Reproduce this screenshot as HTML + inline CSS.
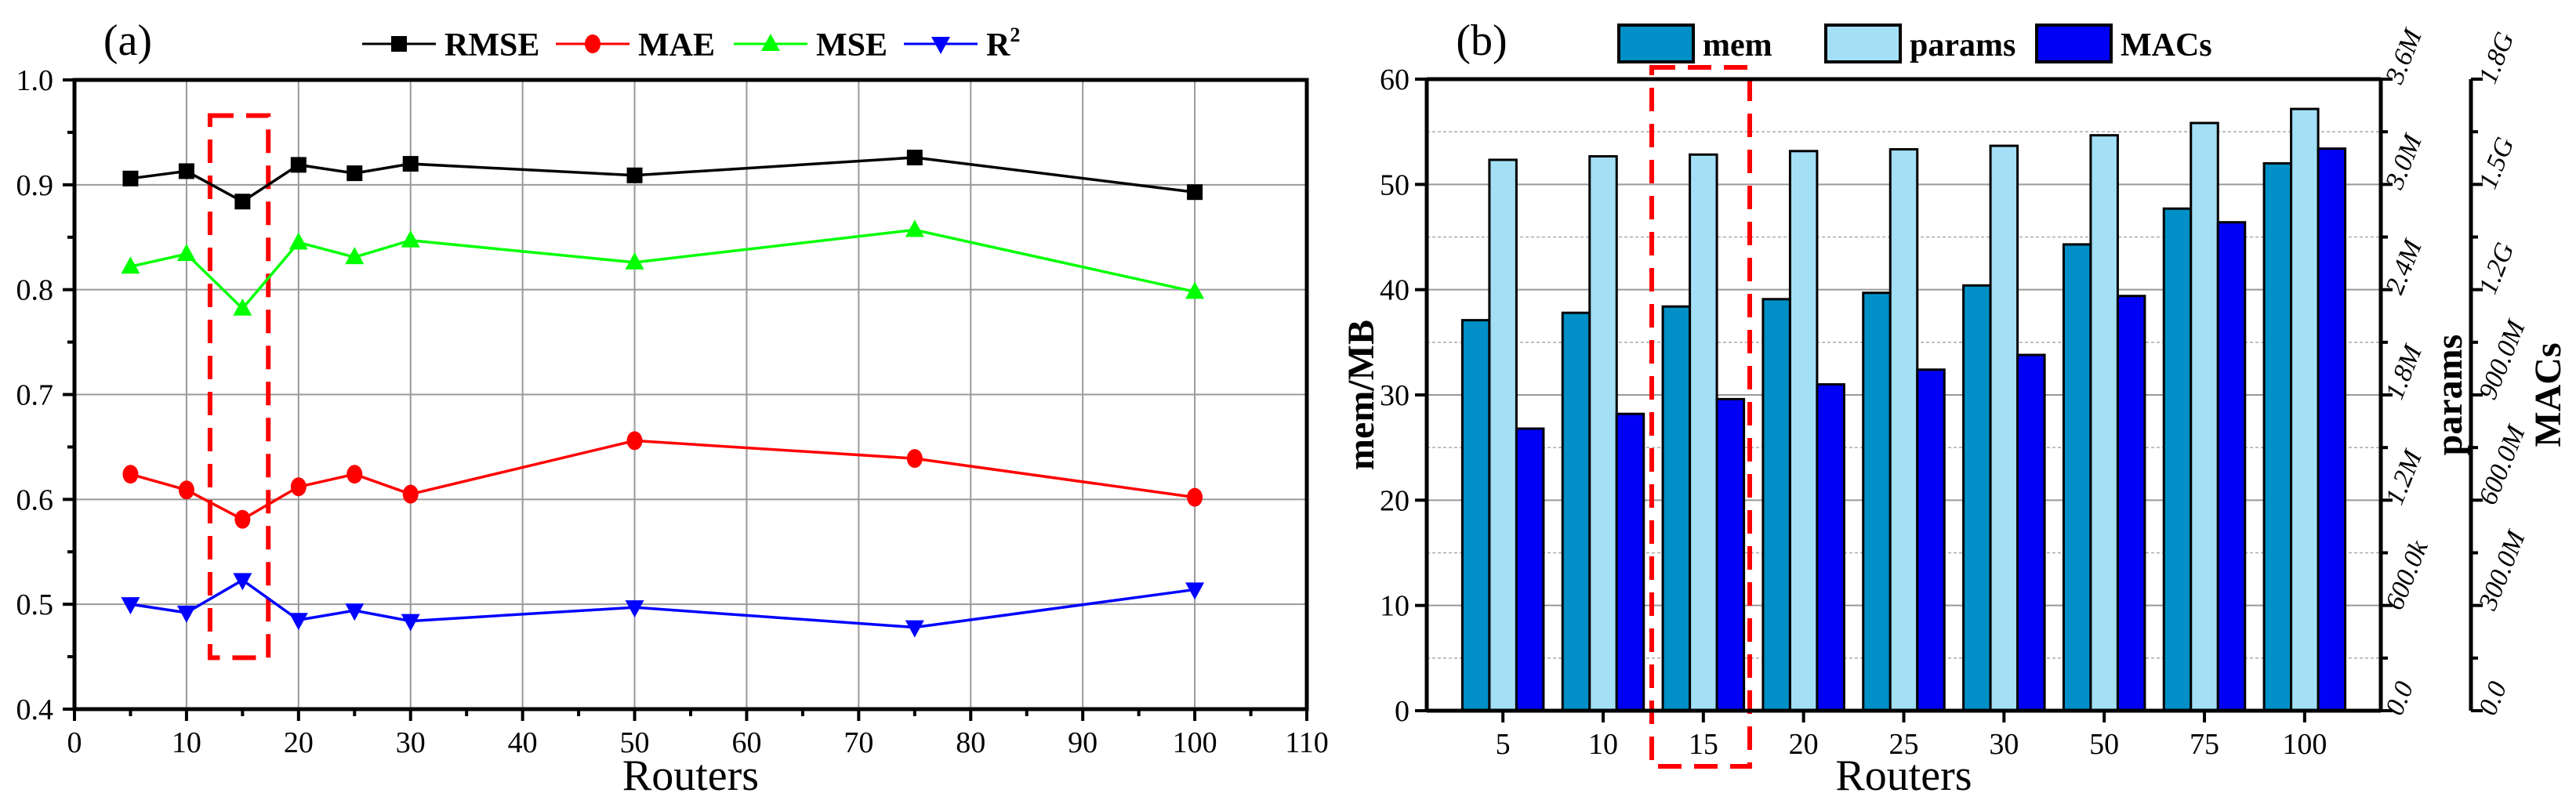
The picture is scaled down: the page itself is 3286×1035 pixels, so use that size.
<!DOCTYPE html>
<html><head><meta charset="utf-8"><style>
body{margin:0;background:#fff}
svg{display:block;font-family:"Liberation Serif",serif}
</style></head><body>
<svg id="c" width="3286" height="1035" viewBox="0 0 3286 1035" xmlns="http://www.w3.org/2000/svg"></svg>
<script>
const xVals=[5,10,15,20,25,30,50,75,100];
const rmse=[0.906,0.913,0.884,0.919,0.911,0.920,0.909,0.926,0.893];
const mae=[0.624,0.609,0.581,0.612,0.624,0.605,0.656,0.639,0.602];
const mse=[0.822,0.834,0.782,0.845,0.831,0.847,0.826,0.857,0.798];
const r2=[0.500,0.492,0.523,0.485,0.494,0.484,0.497,0.478,0.514];
const xTicksA=[0,10,20,30,40,50,60,70,80,90,100,110];
const yTicksA=[0.4,0.5,0.6,0.7,0.8,0.9,1.0];
const categories=["5","10","15","20","25","30","50","75","100"];
const memMB=[37.1,37.8,38.4,39.1,39.7,40.4,44.3,47.7,52.0];
const paramsM=[3.14,3.16,3.17,3.19,3.20,3.22,3.28,3.35,3.43];
const macsG=[0.804,0.846,0.888,0.930,0.972,1.014,1.182,1.392,1.602];
const memTicks=[0,10,20,30,40,50,60];
const paramTicks=["0.0","600.0k","1.2M","1.8M","2.4M","3.0M","3.6M"];
const macTicks=["0.0","300.0M","600.0M","900.0M","1.2G","1.5G","1.8G"];

const NS="http://www.w3.org/2000/svg";
const svg=document.getElementById('c');
function mk(tag,attrs,parent,name,text){const e=document.createElementNS(NS,tag);for(const k in attrs)e.setAttribute(k,attrs[k]);


if(text!==undefined)e.textContent=text;(parent||svg).appendChild(e);return e;}

// ---------- Chart A ----------
const A={l:95,r:1667,t:102,b:905};
const ax=v=>A.l+(v-0)/110*(A.r-A.l);
const ay=v=>A.b-(v-0.4)/0.6*(A.b-A.t);
const gA=mk('g',{},svg,'chart-a');
xTicksA.forEach(v=>{if(v>0&&v<110)mk('line',{x1:ax(v),x2:ax(v),y1:A.t,y2:A.b,stroke:'#999','stroke-width':2},gA,'grid-x');});
yTicksA.forEach(v=>{if(v>0.4&&v<1.0)mk('line',{x1:A.l,x2:A.r,y1:ay(v),y2:ay(v),stroke:'#999','stroke-width':2},gA,'grid-y');});
mk('rect',{x:ax(12.1),y:ay(0.966),width:ax(17.3)-ax(12.1),height:ay(0.449)-ay(0.966),fill:'none',stroke:'#f00','stroke-width':6,'stroke-dasharray':'30,16'},gA,'highlight-box-a');
function series(vals,color,marker,name){
  const g=mk('g',{},gA,name);
  mk('polyline',{points:vals.map((v,i)=>ax(xVals[i])+','+ay(v)).join(' '),fill:'none',stroke:color,'stroke-width':3.5},g,name+'-line');
  vals.forEach((v,i)=>drawMarker(g,ax(xVals[i]),ay(v),color,marker,name+'-point'));
}
function drawMarker(g,x,y,color,m,name){
  if(m==='sq')mk('rect',{x:x-10,y:y-10,width:20,height:20,fill:color},g,name);
  else if(m==='ci')mk('ellipse',{cx:x,cy:y,rx:10,ry:12,fill:color},g,name);
  else if(m==='up')mk('polygon',{points:`${x},${y-13} ${x-12},${y+9} ${x+12},${y+9}`,fill:color},g,name);
  else mk('polygon',{points:`${x},${y+13} ${x-12},${y-9} ${x+12},${y-9}`,fill:color},g,name);
}
series(rmse,'#000','sq','rmse-series');
series(mse,'#0f0','up','mse-series');
series(mae,'#f00','ci','mae-series');
series(r2,'#00f','dn','r2-series');
mk('rect',{x:A.l,y:A.t,width:A.r-A.l,height:A.b-A.t,fill:'none',stroke:'#000','stroke-width':5},gA,'plot-frame-a');
xTicksA.forEach(v=>{mk('line',{x1:ax(v),x2:ax(v),y1:A.b,y2:A.b+15,stroke:'#000','stroke-width':4},gA,'x-tick');
mk('text',{x:ax(v),y:A.b+55,'font-size':38,'text-anchor':'middle'},gA,'x-tick-label',String(v));});
for(let v=5;v<110;v+=10)mk('line',{x1:ax(v),x2:ax(v),y1:A.b,y2:A.b+9,stroke:'#000','stroke-width':4},gA,'x-minor-tick');
yTicksA.forEach(v=>{mk('line',{x1:A.l-15,x2:A.l,y1:ay(v),y2:ay(v),stroke:'#000','stroke-width':4},gA,'y-tick');
mk('text',{x:A.l-27,y:ay(v)+13,'font-size':38,'text-anchor':'end'},gA,'y-tick-label',v.toFixed(1));});
for(let v=0.45;v<1;v+=0.1)mk('line',{x1:A.l-9,x2:A.l,y1:ay(v),y2:ay(v),stroke:'#000','stroke-width':4},gA,'y-minor-tick');
mk('text',{x:(A.l+A.r)/2,y:1008,'font-size':56,'text-anchor':'middle'},gA,'x-axis-title-a','Routers');
mk('text',{x:163,y:70,'font-size':56,'text-anchor':'middle'},gA,'panel-label-a','(a)');
const legA=[['RMSE','#000','sq',462],['MAE','#f00','ci',709],['MSE','#0f0','up',936],['R','#00f','dn',1153]];
legA.forEach(([t,c,m,x0])=>{const g=mk('g',{},gA,'legend-entry');
mk('line',{x1:x0,x2:x0+94,y1:56,y2:56,stroke:c,'stroke-width':3},g,'legend-line');
drawMarker(g,x0+47,56,c,m,'legend-marker');
const tx=mk('text',{x:x0+105,y:71,'font-size':42,'font-weight':'bold'},g,'legend-label',t);
if(t==='R'){mk('tspan',{'font-size':26,dy:-18},tx,'superscript','2');}
});

// ---------- Chart B ----------
const B={l:1820,r:3037,t:101,b:907};
const step=(B.r-B.l)/9.52;
const bx=i=>B.l+(i+0.76)*step;
const by=v=>B.b-v/60*(B.b-B.t);
const byP=v=>B.b-v/3.6*(B.b-B.t);
const byM=v=>B.b-v/1.8*(B.b-B.t);
const gB=mk('g',{},svg,'chart-b');
for(let v=5;v<60;v+=10)mk('line',{x1:B.l,x2:B.r,y1:by(v),y2:by(v),stroke:'#aaa','stroke-width':1.5,'stroke-dasharray':'4,3'},gB,'minor-grid-y');
memTicks.forEach(v=>{if(v>0&&v<60)mk('line',{x1:B.l,x2:B.r,y1:by(v),y2:by(v),stroke:'#999','stroke-width':2},gB,'grid-y');});
const bw=34.5;
categories.forEach((c,i)=>{const cx=bx(i);
mk('rect',{x:cx-1.5*bw,y:by(memMB[i]),width:bw,height:B.b-by(memMB[i]),fill:'#008fc6',stroke:'#000','stroke-width':3},gB,'bar-mem-'+c);
mk('rect',{x:cx-0.5*bw,y:byP(paramsM[i]),width:bw,height:B.b-byP(paramsM[i]),fill:'#a3dff5',stroke:'#000','stroke-width':3},gB,'bar-params-'+c);
mk('rect',{x:cx+0.5*bw,y:byM(macsG[i]),width:bw,height:B.b-byM(macsG[i]),fill:'#0000f5',stroke:'#000','stroke-width':3},gB,'bar-macs-'+c);
mk('line',{x1:cx,x2:cx,y1:B.b,y2:B.b+15,stroke:'#000','stroke-width':4},gB,'x-tick');
mk('text',{x:cx,y:B.b+55,'font-size':38,'text-anchor':'middle'},gB,'x-tick-label',c);
});
mk('rect',{x:2107,y:86,width:125,height:892,fill:'none',stroke:'#f00','stroke-width':6,'stroke-dasharray':'30,16'},gB,'highlight-box-b');
mk('line',{x1:B.l,x2:B.r,y1:B.t,y2:B.t,stroke:'#000','stroke-width':5},gB,'top-axis');
mk('line',{x1:B.l,x2:B.r,y1:B.b,y2:B.b,stroke:'#000','stroke-width':5},gB,'x-axis-b');
mk('line',{x1:B.l,x2:B.l,y1:B.t,y2:B.b,stroke:'#000','stroke-width':5},gB,'y-axis-mem');
mk('line',{x1:B.r,x2:B.r,y1:B.t,y2:B.b,stroke:'#000','stroke-width':5},gB,'y-axis-params');
const MX=3152;
mk('line',{x1:MX,x2:MX,y1:B.t,y2:B.b,stroke:'#000','stroke-width':5},gB,'y-axis-macs');
memTicks.forEach(v=>{mk('line',{x1:B.l-15,x2:B.l,y1:by(v),y2:by(v),stroke:'#000','stroke-width':4},gB,'y-tick');
mk('text',{x:B.l-22,y:by(v)+13,'font-size':38,'text-anchor':'end'},gB,'y-tick-label',String(v));});
for(let v=5;v<60;v+=10){mk('line',{x1:B.r,x2:B.r+9,y1:by(v),y2:by(v),stroke:'#000','stroke-width':4},gB,'minor-tick');
mk('line',{x1:MX,x2:MX+9,y1:by(v),y2:by(v),stroke:'#000','stroke-width':4},gB,'minor-tick');}
paramTicks.forEach((t,i)=>{const y=by(i*10);
mk('line',{x1:B.r,x2:B.r+15,y1:y,y2:y,stroke:'#000','stroke-width':4},gB,'params-tick');
mk('text',{x:B.r+26,y:y+8,'font-size':34,'font-style':'italic',transform:`rotate(-68 ${B.r+26} ${y+8})`},gB,'params-tick-label',t);});
macTicks.forEach((t,i)=>{const y=by(i*10);
mk('line',{x1:MX,x2:MX+15,y1:y,y2:y,stroke:'#000','stroke-width':4},gB,'macs-tick');
mk('text',{x:MX+30,y:y+8,'font-size':34,'font-style':'italic',transform:`rotate(-68 ${MX+30} ${y+8})`},gB,'macs-tick-label',t);});
mk('text',{x:1752,y:504,'font-size':48,'font-weight':'bold','text-anchor':'middle',transform:'rotate(-90 1752 504)'},gB,'y-axis-title-mem','mem/MB');
mk('text',{x:3140,y:504,'font-size':48,'font-weight':'bold','text-anchor':'middle',transform:'rotate(-90 3140 504)'},gB,'y-axis-title-params','params');
mk('text',{x:3266,y:504,'font-size':48,'font-weight':'bold','text-anchor':'middle',transform:'rotate(-90 3266 504)'},gB,'y-axis-title-macs','MACs');
mk('text',{x:(B.l+B.r)/2,y:1008,'font-size':56,'text-anchor':'middle'},gB,'x-axis-title-b','Routers');
mk('text',{x:1890,y:70,'font-size':56,'text-anchor':'middle'},gB,'panel-label-b','(b)');
[['mem','#008fc6',2065],['params','#a3dff5',2329],['MACs','#0000f5',2598]].forEach(([t,c,x0])=>{const g=mk('g',{},gB,'legend-entry');
mk('rect',{x:x0,y:32,width:95,height:47,fill:c,stroke:'#000','stroke-width':4},g,'legend-swatch');
mk('text',{x:x0+107,y:71,'font-size':42,'font-weight':'bold'},g,'legend-label',t);});
</script>
</body></html>
